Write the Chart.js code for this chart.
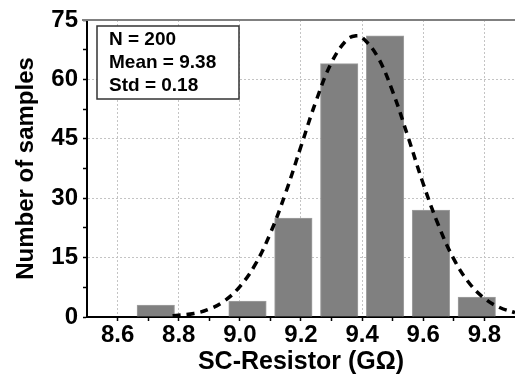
<!DOCTYPE html>
<html>
<head>
<meta charset="utf-8">
<script src="https://cdn.jsdelivr.net/npm/chart.js@4"></script>
<style>
  html, body { margin: 0; padding: 0; background: #fff; }
  #wrap { width: 515px; height: 377px; }
</style>
</head>
<body>
<div id="wrap"><canvas id="histChart"></canvas></div>
<script>
// histogram bins (centres) and counts
const binCenters = [8.725, 9.025, 9.175, 9.325, 9.475, 9.625, 9.775];
const counts = [3, 4, 25, 64, 71, 27, 5];

// dashed fit curve
const fitX = [8.78, 8.85, 8.9, 8.95, 9.0, 9.05, 9.1, 9.15, 9.2, 9.25, 9.3, 9.35, 9.38,
              9.4, 9.45, 9.5, 9.55, 9.6, 9.65, 9.7, 9.75, 9.8, 9.85, 9.9];
const fitY = [0.3, 0.9, 2.0, 4.1, 7.7, 13.2, 21.2, 31.4, 43.1, 54.7, 64.3, 70.0, 71.0,
              70.6, 65.8, 56.9, 45.5, 33.6, 23.1, 14.6, 8.6, 4.7, 2.4, 1.1];

const xTicks = [8.6, 8.8, 9.0, 9.2, 9.4, 9.6, 9.8];
const xMinor = [8.7, 8.9, 9.1, 9.3, 9.5, 9.7];
const yTicks = [0, 15, 30, 45, 60, 75];
const yMinor = [7.5, 22.5, 37.5, 52.5, 67.5];

const statsLines = ['N = 200', 'Mean = 9.38', 'Std = 0.18'];

const FONT = "'Liberation Sans', Arial, sans-serif";

function tickList(major, minor) {
    return major.map(v => ({value: v, minor: false}))
        .concat(minor.map(v => ({value: v, minor: true})))
        .sort((a, b) => a.value - b.value);
}

const statsBox = {
    id: 'statsBox',
    afterDraw(chart) {
        const ctx = chart.ctx;
        const a = chart.chartArea;
        ctx.save();
        // grey top frame line
        ctx.strokeStyle = '#808080';
        ctx.lineWidth = 2;
        ctx.beginPath();
        ctx.moveTo(a.left - 5, a.top);
        ctx.lineTo(a.right, a.top);
        ctx.stroke();
        // stats box
        const bx = a.left + 10, by = a.top + 6, bw = 142, bh = 73;
        ctx.fillStyle = '#fff';
        ctx.fillRect(bx, by, bw, bh);
        ctx.strokeStyle = '#333';
        ctx.lineWidth = 1.5;
        ctx.strokeRect(bx, by, bw, bh);
        ctx.fillStyle = '#000';
        ctx.font = 'bold 19px ' + FONT;
        ctx.textBaseline = 'middle';
        statsLines.forEach((t, i) => ctx.fillText(t, bx + 12, by + 14 + i * 23));
        ctx.restore();
    }
};

let ctx = document.getElementById('histChart').getContext('2d');

let histChart = new Chart(ctx, {
    type: 'bar',
    data: {
        datasets: [{
            type: 'line',
            data: fitX.map((x, i) => ({x: x, y: fitY[i]})),
            borderColor: '#000',
            borderWidth: 3.5,
            borderDash: [8, 6],
            pointRadius: 0,
            tension: 0.4,
            fill: false,
            order: 0
        }, {
            type: 'bar',
            data: binCenters.map((x, i) => ({x: x, y: counts[i]})),
            backgroundColor: '#808080',
            borderColor: '#a0a0a0',
            borderWidth: 1,
            barThickness: 37.5,
            order: 1
        }]
    },
    options: {
        responsive: true,
        maintainAspectRatio: false,
        animation: false,
        layout: { padding: { top: 20, right: 0, left: 0, bottom: 0 } },
        plugins: {
            legend: { display: false },
            tooltip: { enabled: false }
        },
        scales: {
            x: {
                type: 'linear',
                min: 8.5,
                max: 9.9,
                offset: false,
                afterBuildTicks: s => { s.ticks = tickList(xTicks, xMinor); },
                afterFit: s => { s.height = 60; },
                ticks: {
                    autoSkip: false,
                    maxRotation: 0,
                    padding: 0,
                    color: '#000',
                    font: { family: FONT, size: 24, weight: 'bold' },
                    callback: (v, i, t) => t[i].minor ? '' : v.toFixed(1)
                },
                grid: {
                    offset: false,
                    color: c => (c.tick && c.tick.minor) ? 'rgba(0,0,0,0)' : '#c4c4c4',
                    lineWidth: 1,
                    tickLength: 4,
                    tickColor: '#000',
                    tickWidth: 1.5,
                    tickBorderDash: []
                },
                border: { display: true, color: '#000', width: 2, dash: [2, 2] },
                title: {
                    display: true,
                    text: 'SC-Resistor (GΩ)',
                    color: '#000',
                    padding: { top: 0, bottom: 0 },
                    font: { family: FONT, size: 25, weight: 'bold' }
                }
            },
            y: {
                min: 0,
                max: 75,
                afterBuildTicks: s => { s.ticks = tickList(yTicks, yMinor); },
                afterFit: s => { s.width = 87; },
                ticks: {
                    autoSkip: false,
                    padding: 5,
                    color: '#000',
                    font: { family: FONT, size: 24, weight: 'bold' },
                    callback: (v, i, t) => t[i].minor ? '' : String(v)
                },
                grid: {
                    color: c => (c.tick && c.tick.minor) ? 'rgba(0,0,0,0)' : '#c4c4c4',
                    lineWidth: 1,
                    tickLength: 4,
                    tickColor: '#000',
                    tickWidth: 1.5,
                    tickBorderDash: []
                },
                border: { display: true, color: '#000', width: 2, dash: [2, 2] },
                title: {
                    display: true,
                    text: 'Number of samples',
                    color: '#000',
                    padding: { top: 12, bottom: 0 },
                    font: { family: FONT, size: 24, weight: 'bold' }
                }
            }
        }
    },
    plugins: [statsBox]
});
</script>
</body>
</html>
